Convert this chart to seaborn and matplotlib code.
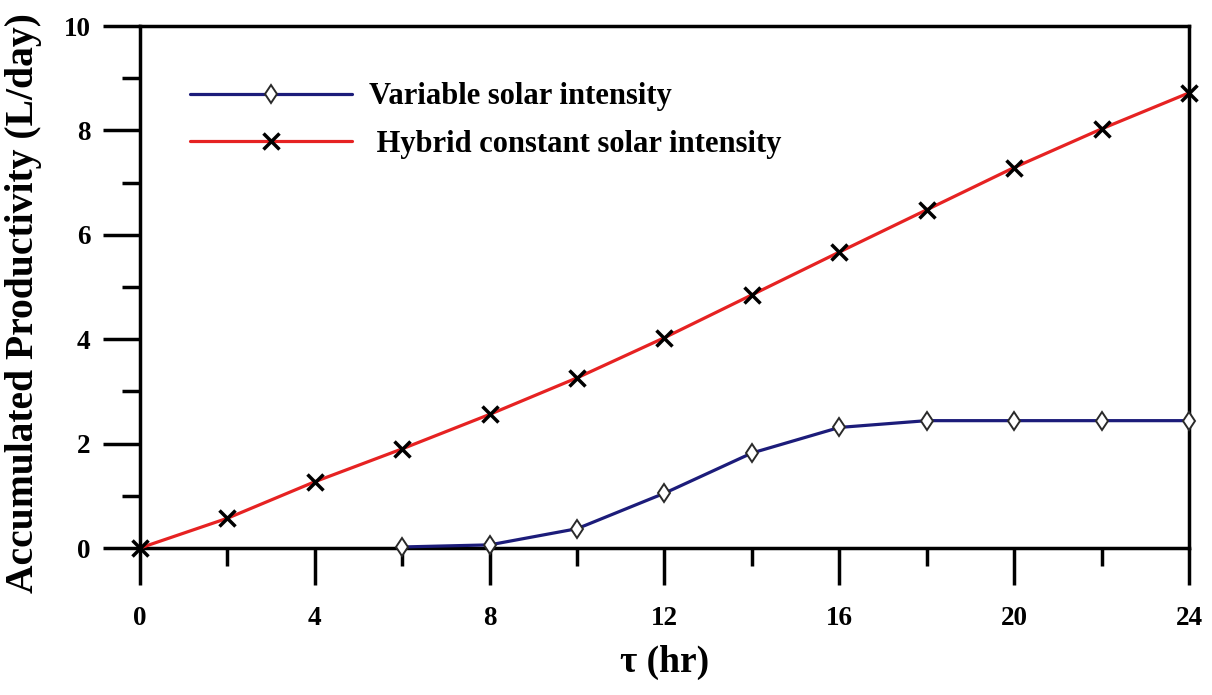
import numpy as np
import pandas as pd
import matplotlib
matplotlib.use("Agg")
import matplotlib.pyplot as plt
import seaborn as sns
from matplotlib.ticker import MultipleLocator

# Accumulated productivity over the day
hours_variable = [6, 8, 10, 12, 14, 16, 18, 20, 22, 24]
prod_variable = [0.02, 0.06, 0.37, 1.05, 1.82, 2.31, 2.44, 2.44, 2.44, 2.44]

hours_hybrid = [0, 2, 4, 6, 8, 10, 12, 14, 16, 18, 20, 22, 24]
prod_hybrid = [0.0, 0.57, 1.27, 1.90, 2.56, 3.26, 4.03, 4.85, 5.67, 6.48, 7.29, 8.03, 8.72]

label_variable = "Variable solar intensity"
label_hybrid = " Hybrid constant solar intensity"

x_ticks = [0, 4, 8, 12, 16, 20, 24]
y_ticks = [0, 2, 4, 6, 8, 10]

sns.set_style("white")
plt.rcParams["font.family"] = ["Liberation Serif", "DejaVu Serif"]
plt.rcParams["font.weight"] = "bold"
plt.rcParams["text.color"] = "black"
plt.rcParams["axes.labelcolor"] = "black"
plt.rcParams["xtick.color"] = "black"
plt.rcParams["ytick.color"] = "black"

fig = plt.figure(figsize=(12.12, 6.95), dpi=100)
ax = fig.add_axes([0.1155, 0.2115, 0.8655, 0.751])

df_var = pd.DataFrame({"t": hours_variable, "p": prod_variable})
df_hyb = pd.DataFrame({"t": hours_hybrid, "p": prod_hybrid})

sns.lineplot(data=df_var, x="t", y="p", ax=ax, color="#1c1c7a", linewidth=2.3,
             marker="d", markersize=9.5, markerfacecolor="white",
             markeredgecolor="#2a2a2a", markeredgewidth=1.4,
             label=label_variable, clip_on=False, zorder=3)
sns.lineplot(data=df_hyb, x="t", y="p", ax=ax, color="#e62222", linewidth=2.3,
             marker="x", markersize=11, markeredgecolor="black",
             markeredgewidth=2.5, label=label_hybrid, clip_on=False, zorder=4)

ax.set_xlim(0, 24)
ax.set_ylim(0, 10)
ax.set_xticks(x_ticks)
ax.set_yticks(y_ticks)
ax.xaxis.set_minor_locator(MultipleLocator(2))
ax.yaxis.set_minor_locator(MultipleLocator(1))

for s in ax.spines.values():
    s.set_linewidth(2.5)
    s.set_color("black")

ax.tick_params(axis="both", which="major", direction="out", length=26.5,
               width=2.5, color="black", labelcolor="black", labelsize=19.5, pad=9)
ax.tick_params(axis="both", which="minor", direction="out", length=13,
               width=2.5, color="black")
ax.tick_params(axis="x", which="major", pad=15)
ax.tick_params(axis="x", which="both", bottom=True)
ax.tick_params(axis="y", which="both", left=True)
for lab in ax.get_xticklabels() + ax.get_yticklabels():
    lab.set_fontweight("bold")

ax.set_xlabel("τ (hr)", fontsize=27, fontweight="bold", labelpad=10, color="black")
ax.set_ylabel("Accumulated Productivity (L/day)", fontsize=28.5, fontweight="bold",
              color="black")
ax.yaxis.set_label_coords(-0.093, 0.47)

leg = ax.legend(loc="upper left", bbox_to_anchor=(0.048, 0.892), frameon=False,
                handlelength=5.3, handletextpad=0.55,
                labelspacing=0.6, borderaxespad=0, borderpad=0,
                prop={"weight": "bold", "size": 22}, labelcolor="black")

fig.savefig("out.png", dpi=100, facecolor="white")
